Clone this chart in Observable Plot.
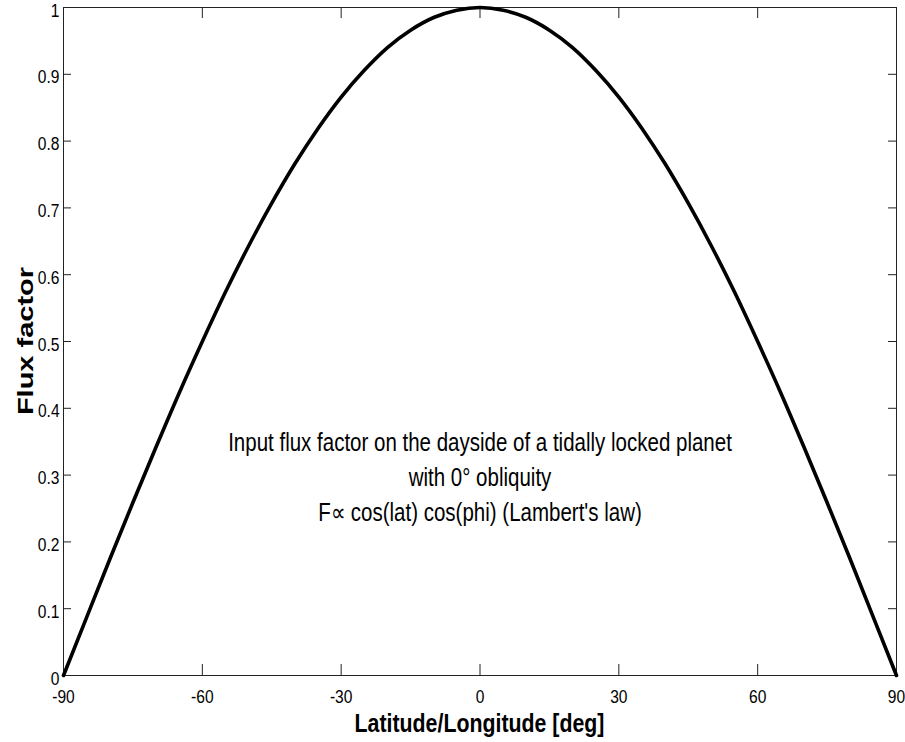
<!DOCTYPE html>
<html>
<head>
<meta charset="utf-8">
<script src="https://cdn.jsdelivr.net/npm/d3@7"></script>
<script src="https://cdn.jsdelivr.net/npm/@observablehq/plot@0.6"></script>
<style>
  html, body { margin: 0; padding: 0; background: #fff; }
  #chart svg { display: block; }
</style>
</head>
<body>
<div id="chart"></div>
<script>
// Angle from the substellar point (degrees) and the Lambert flux factor there
const angles = [-90, -85, -80, -75, -70, -65, -60, -55, -50, -45, -40, -35, -30, -25, -20, -15, -10, -5,
                0, 5, 10, 15, 20, 25, 30, 35, 40, 45, 50, 55, 60, 65, 70, 75, 80, 85, 90];
const flux = [0, 0.087, 0.174, 0.259, 0.342, 0.423, 0.5, 0.574, 0.643, 0.707, 0.766, 0.819, 0.866, 0.906, 0.94, 0.966, 0.985, 0.996,
              1, 0.996, 0.985, 0.966, 0.94, 0.906, 0.866, 0.819, 0.766, 0.707, 0.643, 0.574, 0.5, 0.423, 0.342, 0.259, 0.174, 0.087, 0];

const xTicks = [-90, -60, -30, 0, 30, 60, 90];
const xTickLabels = ["-90", "-60", "-30", "0", "30", "60", "90"];
const yTicks = [0, 0.1, 0.2, 0.3, 0.4, 0.5, 0.6, 0.7, 0.8, 0.9, 1];
const yTickLabels = ["0", "0.1", "0.2", "0.3", "0.4", "0.5", "0.6", "0.7", "0.8", "0.9", "1"];

const xLabel = "Latitude/Longitude [deg]";
const yLabel = "Flux factor";
const note = "Input flux factor on the dayside of a tidally locked planet\nwith 0° obliquity\nF\u221D cos(lat) cos(phi) (Lambert's law)";

const W = 905, H = 742;
const mL = 63, mR = 9, mT = 7, mB = 67;
const innerW = W - mL - mR, innerH = H - mT - mB;
const sans = "'Liberation Sans', Arial, sans-serif";
const squeeze = 0.82; // horizontal condensing applied to the text

const data = angles.map((a, i) => ({angle: a, flux: flux[i]}));

const chart = Plot.plot({
  width: W,
  height: H,
  marginLeft: mL,
  marginRight: mR,
  marginTop: mT,
  marginBottom: mB,
  style: {fontFamily: sans, fontSize: "19px", color: "#000", background: "#fff"},
  x: {domain: [-90, 90], label: null},
  y: {domain: [0, 1], label: null},
  marks: [
    Plot.frame({stroke: "#222", strokeWidth: 1}),
    // inward ticks on all four sides
    Plot.tickX(xTicks, {x: d => d, stroke: "#222", insetTop: innerH - 11}),
    Plot.tickX(xTicks, {x: d => d, stroke: "#222", insetBottom: innerH - 11}),
    Plot.tickY(yTicks, {y: d => d, stroke: "#222", insetRight: innerW - 8}),
    Plot.tickY(yTicks, {y: d => d, stroke: "#222", insetLeft: innerW - 8}),
    Plot.axisX({ticks: xTicks, tickSize: 0, tickPadding: 14, fontSize: 19,
                tickFormat: d => xTickLabels[xTicks.indexOf(d)]}),
    Plot.axisY({ticks: yTicks, tickSize: 0, tickPadding: 4, dy: 3, fontSize: 19,
                tickFormat: d => yTickLabels[yTicks.indexOf(d)]}),
    Plot.line(data, {x: "angle", y: "flux", stroke: "#000", strokeWidth: 3.6, curve: "natural"}),
    Plot.text([note], {x: 0, y: 0.3, text: d => d, fontSize: 25, lineHeight: 1.4, fill: "#000",
                       textAnchor: "middle", lineAnchor: "middle"})
  ]
});

const svg = d3.select(chart);
svg.append("text")
  .attr("x", mL + innerW / 2)
  .attr("y", 732)
  .attr("text-anchor", "middle")
  .attr("font-family", sans)
  .attr("font-weight", "bold")
  .attr("font-size", 26)
  .attr("fill", "#000")
  .text(xLabel);
svg.append("text")
  .attr("class", "ylabel")
  .attr("transform", `translate(25,${mT + innerH / 2}) scale(0.75,1) rotate(-90)`)
  .attr("text-anchor", "middle")
  .attr("dominant-baseline", "central")
  .attr("font-family", sans)
  .attr("font-weight", "bold")
  .attr("font-size", 29)
  .attr("fill", "#000")
  .text(yLabel);

document.getElementById("chart").append(chart);

// condense horizontal text about its anchor point
svg.selectAll("text").filter(function() { return !this.classList.contains("ylabel"); }).each(function() {
  const b = this.getBBox();
  const anchor = getComputedStyle(this).textAnchor;
  const ax = anchor === "end" ? b.x + b.width : anchor === "middle" ? b.x + b.width / 2 : b.x;
  const t = this.getAttribute("transform") || "";
  this.setAttribute("transform", `${t} translate(${ax},0) scale(${squeeze},1) translate(${-ax},0)`);
});
</script>
</body>
</html>
